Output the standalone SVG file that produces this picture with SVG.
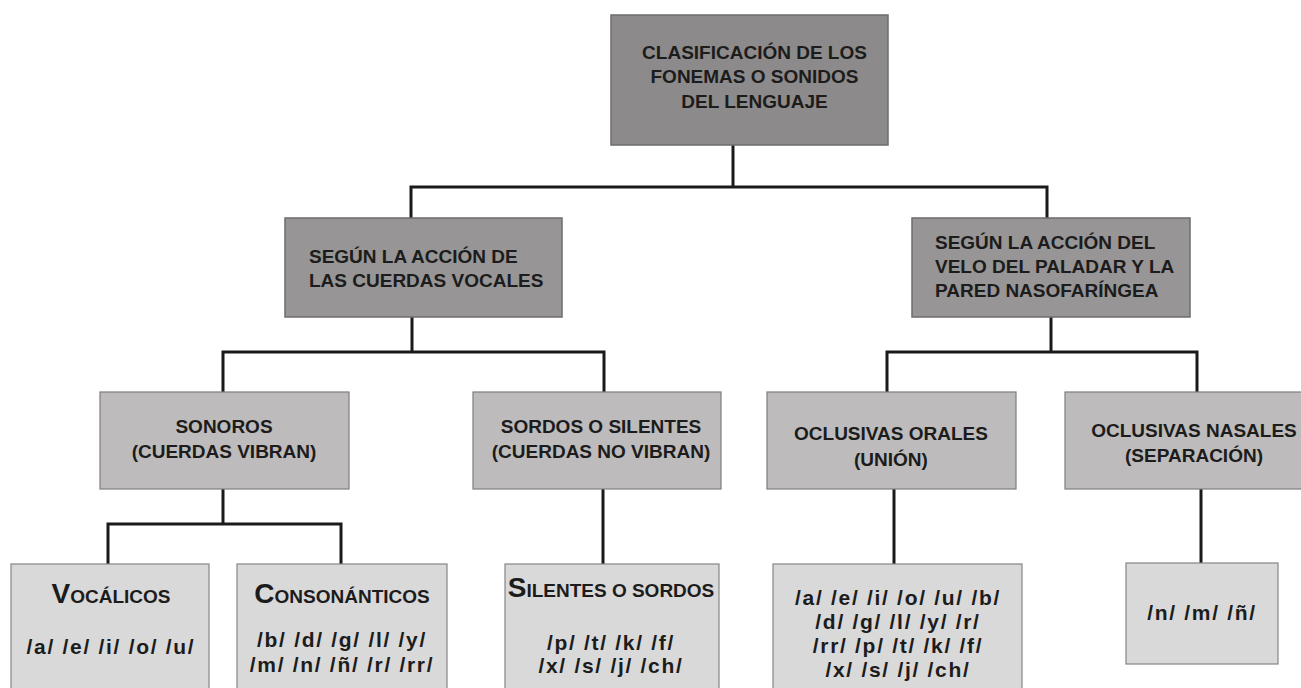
<svg xmlns="http://www.w3.org/2000/svg" width="1301" height="688" viewBox="0 0 1301 688">
<style>
.t{font-family:"Liberation Sans",Arial,sans-serif;font-weight:bold;fill:#1c1c1c;}
.h{font-size:19px;}
.c{text-anchor:middle;}
.p{font-size:21px;letter-spacing:1.7px;text-anchor:middle;}
.big{font-size:28px;}
.dark{fill:#8c8a8a;stroke:#6e6c6c;stroke-width:1.5;}
.mid{fill:#979595;stroke:#6e6c6c;stroke-width:1.5;}
.lite{fill:#bdbbbb;stroke:#7f7d7d;stroke-width:1.2;}
.pale{fill:#d9d9d9;stroke:#858585;stroke-width:1.2;}
.con{fill:none;stroke:#1a1a1a;stroke-width:3;}
</style>
<rect width="1301" height="688" fill="#ffffff"/>
<g id="connectors">
<path class="con" d="M733,145 V187"/>
<path class="con" d="M411,218 V187 H1047 V218"/>
<path class="con" d="M412,317 V352"/>
<path class="con" d="M223,392 V352 H604 V392"/>
<path class="con" d="M1051,317 V352"/>
<path class="con" d="M887,392 V352 H1197 V392"/>
<path class="con" d="M223,489 V524"/>
<path class="con" d="M108,564 V524 H341 V564"/>
<path class="con" d="M603,489 V564"/>
<path class="con" d="M894,489 V564"/>
<path class="con" d="M1201,489 V563"/>
</g>
<g id="root">
<rect class="dark" x="611" y="15" width="277" height="130"/>
<text class="t h c" x="754.5" y="59">CLASIFICACIÓN DE LOS</text>
<text class="t h c" x="754.5" y="83">FONEMAS O SONIDOS</text>
<text class="t h c" x="754.5" y="108">DEL LENGUAJE</text>
</g>
<g id="cuerdas">
<rect class="mid" x="285" y="218" width="277" height="99"/>
<text class="t h" x="309" y="263">SEGÚN LA ACCIÓN DE</text>
<text class="t h" x="309" y="287">LAS CUERDAS VOCALES</text>
</g>
<g id="velo">
<rect class="mid" x="912" y="218" width="278" height="99"/>
<text class="t h" x="935" y="249">SEGÚN LA ACCIÓN DEL</text>
<text class="t h" x="935" y="273">VELO DEL PALADAR Y LA</text>
<text class="t h" x="935" y="297">PARED NASOFARÍNGEA</text>
</g>
<g id="sonoros">
<rect class="lite" x="100" y="392" width="249" height="97"/>
<text class="t h c" x="224" y="433">SONOROS</text>
<text class="t h c" x="224" y="458">(CUERDAS VIBRAN)</text>
</g>
<g id="sordos">
<rect class="lite" x="473" y="392" width="248" height="97"/>
<text class="t h c" x="601" y="433">SORDOS O SILENTES</text>
<text class="t h c" x="601" y="458">(CUERDAS NO VIBRAN)</text>
</g>
<g id="orales">
<rect class="lite" x="767" y="392" width="249" height="97"/>
<text class="t h c" x="891" y="440">OCLUSIVAS ORALES</text>
<text class="t h c" x="891" y="466">(UNIÓN)</text>
</g>
<g id="nasales">
<rect class="lite" x="1065" y="392" width="260" height="97"/>
<text class="t h c" x="1194" y="437">OCLUSIVAS NASALES</text>
<text class="t h c" x="1194" y="462">(SEPARACIÓN)</text>
</g>
<g id="vocalicos">
<rect class="pale" x="11" y="564" width="198" height="130"/>
<text class="t h c" x="111" y="603"><tspan class="big">V</tspan>OCÁLICOS</text>
<text class="t p" x="111" y="654">/a/ /e/ /i/ /o/ /u/</text>
</g>
<g id="consonanticos">
<rect class="pale" x="237" y="564" width="210" height="130"/>
<text class="t h c" x="342" y="603"><tspan class="big">C</tspan>ONSONÁNTICOS</text>
<text class="t p" x="342" y="647">/b/ /d/ /g/ /l/ /y/</text>
<text class="t p" x="342" y="672">/m/ /n/ /ñ/ /r/ /rr/</text>
</g>
<g id="silentes">
<rect class="pale" x="505" y="564" width="214" height="130"/>
<text class="t h c" x="611" y="597"><tspan class="big">S</tspan>ILENTES O SORDOS</text>
<text class="t p" x="611" y="650">/p/ /t/ /k/ /f/</text>
<text class="t p" x="611" y="673">/x/ /s/ /j/ /ch/</text>
</g>
<g id="orales-fonemas">
<rect class="pale" x="773" y="564" width="249" height="130"/>
<text class="t p" x="898" y="605">/a/ /e/ /i/ /o/ /u/ /b/</text>
<text class="t p" x="898" y="629">/d/ /g/ /l/ /y/ /r/</text>
<text class="t p" x="898" y="653">/rr/ /p/ /t/ /k/ /f/</text>
<text class="t p" x="898" y="677">/x/ /s/ /j/ /ch/</text>
</g>
<g id="nasales-fonemas">
<rect class="pale" x="1126" y="563" width="152" height="101"/>
<text class="t p" x="1202" y="620">/n/ /m/ /ñ/</text>
</g>
</svg>
